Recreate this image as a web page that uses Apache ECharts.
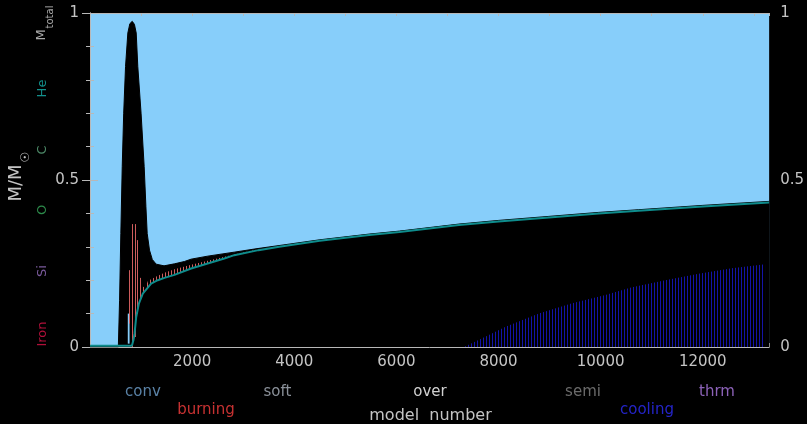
<!DOCTYPE html>
<html><head><meta charset="utf-8">
<script src="https://cdn.jsdelivr.net/npm/echarts@6/dist/echarts.min.js"></script>
<style>html,body{margin:0;padding:0;background:#000;}#c{width:807px;height:424px;}</style>
</head><body><div id="c"></div>
<script>
// ---- data ----
const xMax = 13300;
const xLabelTicks = [2000, 4000, 6000, 8000, 10000, 12000];
const yLabelTicks = [0, 0.5, 1];

// upper boundary of the black (non-convective) region
const mixBoundary = [
  [0,0],[555,0],[579,0.14],[604,0.34],[631,0.54],[660,0.70],[696,0.84],[741,0.94],
  [780,0.968],[827,0.975],[870,0.966],[905,0.94],[936,0.84],[1000,0.70],[1061,0.54],
  [1095,0.42],[1120,0.34],[1165,0.29],[1220,0.262],[1296,0.248],[1450,0.243],[1654,0.249],
  [1850,0.256],[1980,0.263],[2305,0.272],[2826,0.284],[3250,0.294],[3900,0.308],
  [4500,0.321],[5466,0.338],[6060,0.347],[7225,0.368],[8000,0.379],[8985,0.391],
  [9960,0.403],[10740,0.411],[12000,0.424],[13300,0.436]
];
// helium core boundary (teal line)
const heCore = [
  [0,0.004],[820,0.004],[850,0.02],[872,0.04],[905,0.09],[957,0.13],[1034,0.16],[1132,0.178],
  [1197,0.19],[1328,0.20],[1458,0.207],[1654,0.216],[1980,0.235],[2305,0.25],[2631,0.265],
  [2826,0.275],[3300,0.29],[3706,0.300],[4500,0.318],[5466,0.335],[6060,0.344],[7225,0.365],
  [8000,0.376],[8985,0.388],[9960,0.40],[10740,0.408],[12000,0.421],[13300,0.433]
];
// top of the fine burning comb just above the He core
const burnComb = [
  [1087,0.183],[1132,0.196],[1197,0.203],[1328,0.213],[1458,0.222],[1654,0.233],
  [1980,0.246],[2305,0.258],[2631,0.270],[2826,0.277],[3300,0.293]
];
// tall burning strokes: [model, bottom, top]
const burnLines = [
  [757,0.07,0.23],[820,0.0,0.368],[872,0.03,0.368],[917,0.10,0.32],[976,0.14,0.207],[1034,0.16,0.18]
];
// small convective pocket inside the peak: [x0, x1, y0, y1]
const convPocket = [[740,775,0.01,0.10]];
// upper edge of the cooling region
const coolingTop = [
  [7322,0],[7811,0.036],[8137,0.061],[8789,0.10],[9440,0.131],[10091,0.156],[10612,0.179],
  [11264,0.20],[11916,0.219],[12567,0.236],[13220,0.248]
];

// ---- helpers ----
function stripes(color, period, w) {
  const c = document.createElement('canvas');
  c.width = period; c.height = 4;
  const g = c.getContext('2d');
  g.fillStyle = color; g.fillRect(0, 0, w, 4);
  return c;
}
const FONT = 'DejaVu Sans';
const AX = '#b8b8b8';
const LBL = '#c4c4c4';

const chart = echarts.init(document.getElementById('c'), null, {renderer: 'canvas'});

const baseX = {
  type: 'value', min: 0, max: xMax, gridIndex: 0,
  splitLine: {show: false},
  axisLine: {lineStyle: {color: AX, width: 1}}
};
const baseY = {
  type: 'value', min: 0, max: 1, interval: 0.5,
  splitLine: {show: false},
  axisLine: {show: true, lineStyle: {color: AX, width: 1}},
  axisTick: {show: true, inside: true, length: 8, lineStyle: {color: AX}},
  minorTick: {show: true, splitNumber: 5, length: 4, lineStyle: {color: AX}},
  axisLabel: {color: LBL, fontSize: 15, fontFamily: FONT, margin: 11,
    formatter: v => yLabelTicks.includes(v) ? String(v) : ''}
};

function txt(text, x, y, color, size, rot) {
  return {type: 'text', x: x, y: y, rotation: rot || 0, z: 10,
    style: {text: text, fill: color, font: size + 'px "' + FONT + '"',
      textAlign: 'center', textVerticalAlign: 'middle'}};
}
const R = Math.PI / 2;

chart.setOption({
  backgroundColor: '#000',
  animation: false,
  grid: {left: 90, top: 13, width: 681, height: 334, show: true,
    backgroundColor: '#87cefa', borderWidth: 0},
  xAxis: [
    Object.assign({}, baseX, {position: 'bottom', interval: 2000,
      axisTick: {inside: true, length: 7, lineStyle: {color: AX}},
      axisLabel: {color: LBL, fontSize: 15, fontFamily: FONT, margin: 8,
        showMinLabel: false, showMaxLabel: false,
        formatter: v => xLabelTicks.includes(v) ? String(v) : ''}}),
    Object.assign({}, baseX, {position: 'bottom', interval: 1000,
      axisLine: {show: false},
      axisTick: {inside: true, length: 4, lineStyle: {color: AX}},
      axisLabel: {show: false}}),
    Object.assign({}, baseX, {position: 'top', interval: 1000,
      axisTick: {inside: true, length: 3, lineStyle: {color: AX}},
      axisLabel: {show: false}})
  ],
  yAxis: [
    Object.assign({}, baseY, {position: 'left'}),
    Object.assign({}, baseY, {position: 'right'})
  ],
  series: [
    {type: 'line', name: 'mix', data: mixBoundary, showSymbol: false, symbol: 'none',
      lineStyle: {color: '#000', width: 1}, areaStyle: {color: '#000', opacity: 1}, z: 2},
    {type: 'line', name: 'burnComb', data: burnComb, showSymbol: false, symbol: 'none',
      lineStyle: {width: 0, opacity: 0},
      areaStyle: {color: {image: stripes('#cd5c5c', 3, 1), repeat: 'repeat'}, opacity: 1}, z: 3},
    {type: 'line', name: 'coreFill', data: heCore, showSymbol: false, symbol: 'none',
      lineStyle: {width: 0, opacity: 0}, areaStyle: {color: '#000', opacity: 1}, z: 4},
    {type: 'line', name: 'cooling', data: coolingTop, showSymbol: false, symbol: 'none',
      lineStyle: {width: 0, opacity: 0},
      areaStyle: {color: {image: stripes('#1414a8', 3, 1), repeat: 'repeat'}, opacity: 1}, z: 5},
    {type: 'custom', name: 'pocket', data: convPocket, z: 6,
      renderItem: (p, api) => {
        const a = api.coord([api.value(0), api.value(3)]);
        const b = api.coord([api.value(1), api.value(2)]);
        return {type: 'rect', shape: {x: a[0], y: a[1], width: b[0] - a[0], height: b[1] - a[1]},
          style: {fill: '#87cefa'}};
      }},
    {type: 'custom', name: 'burnLines', data: burnLines, z: 7,
      renderItem: (p, api) => {
        const a = api.coord([api.value(0), api.value(1)]);
        const b = api.coord([api.value(0), api.value(2)]);
        const x = Math.round(a[0]) + 0.5;
        return {type: 'line', shape: {x1: x, y1: a[1], x2: x, y2: b[1]},
          style: {stroke: '#cd5c5c', lineWidth: 1}};
      }},
    {type: 'line', name: 'He', data: heCore, showSymbol: false, symbol: 'none',
      lineStyle: {color: '#0e8c8c', width: 2}, z: 8}
  ],
  graphic: [
    txt('M/M', 16.5, 183, LBL, 18, R),
    txt('\u2609', 25.5, 157, LBL, 12, R),
    txt('M', 41.5, 35, '#a8a8a8', 13, R),
    txt('total', 50, 17, '#a8a8a8', 10, R),
    txt('He', 42.5, 88.5, '#13908c', 13, R),
    txt('C', 43, 150, '#4d8a68', 13, R),
    txt('O', 43, 210, '#2c8a4a', 13, R),
    txt('Si', 43, 271, '#7a5a9c', 13, R),
    txt('Iron', 43, 334, '#b0103a', 13, R),
    txt('conv', 143, 392.5, '#5a82a6', 15),
    txt('burning', 206, 410, '#c83232', 15),
    txt('soft', 277.5, 392.5, '#8a9099', 15),
    txt('over', 430, 392.5, '#d0d0d0', 15),
    txt('model  number', 430.5, 415.5, LBL, 16),
    txt('semi', 583, 392.5, '#6a6a6a', 15),
    txt('cooling', 647, 410, '#2424c8', 15),
    txt('thrm', 717, 392.5, '#8c62b8', 15)
  ]
});
</script></body></html>
